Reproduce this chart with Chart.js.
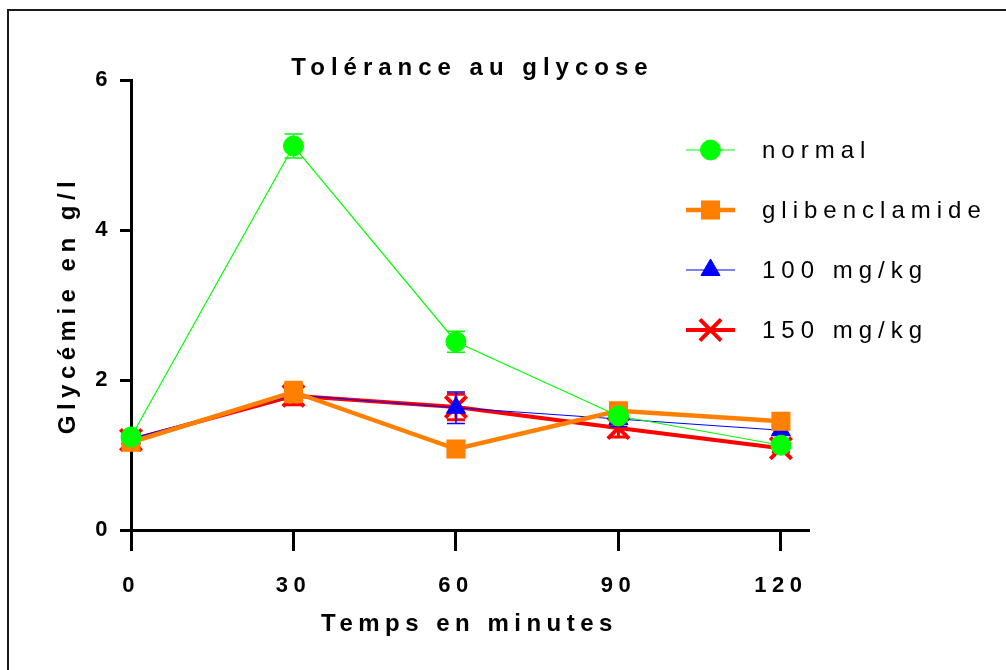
<!DOCTYPE html>
<html lang="fr">
<head>
<meta charset="utf-8">
<title>Tolérance au glycose</title>
<script src="https://cdn.jsdelivr.net/npm/chart.js@4.4.1/dist/chart.umd.min.js"></script>
<style>
  html, body { margin: 0; padding: 0; background: #fff; }
  canvas { display: block; }
</style>
</head>
<body>
<canvas id="glucoseChart" width="1006" height="670"></canvas>
<script>
// --- Glycémie (g/l) en fonction du temps (min), moyenne ± erreur ---
const minutes = [0, 30, 60, 90, 120];
const xTicks = [0, 30, 60, 90, 120];
const yTicks = [0, 2, 4, 6];
const seriesNames = ['normal', 'glibenclamide', '100 mg/kg', '150 mg/kg'];

const normal = [1.24, 5.12, 2.51, 1.52, 1.13];
const normalErr = [0.05, 0.16, 0.14, 0.06, 0.05];
const gliben = [1.17, 1.84, 1.08, 1.59, 1.45];
const glibenErr = [0.05, 0.13, 0.05, 0.05, 0.05];
const dose100 = [1.22, 1.80, 1.63, 1.48, 1.33];
const dose100Err = [0.05, 0.06, 0.21, 0.10, 0.06];
const dose150 = [1.20, 1.79, 1.64, 1.36, 1.09];
const dose150Err = [0.06, 0.12, 0.17, 0.12, 0.05];

const titleText = 'Tolérance au glycose';
const xTitle = 'Temps en minutes';
const yTitle = 'Glycémie en g/l';

const FONT = '"Liberation Sans", Arial, sans-serif';
const SPACING = '5.5px';

const toPoints = values => minutes.map((m, i) => ({ x: m, y: values[i] }));

// --- Plugins ---
// letter spacing for all text Chart.js draws (ticks, axis titles)
const letterSpacingPlugin = {
    id: 'letterSpacing',
    beforeUpdate(chart) { chart.ctx.letterSpacing = SPACING; },
    beforeDraw(chart) { chart.ctx.letterSpacing = SPACING; }
};

// vertical error bars with caps, drawn under each series' own marks
const errorBarsPlugin = {
    id: 'errorBars',
    beforeDatasetDraw(chart, args) {
        const ds = chart.data.datasets[args.index];
        if (!ds.errors) return;
        const yScale = chart.scales.y;
        const ctx = chart.ctx;
        const cap = 9;
        ctx.save();
        ctx.strokeStyle = ds.borderColor;
        ctx.lineWidth = ds.errorWidth;
        args.meta.data.forEach((pt, i) => {
            const v = ds.data[i].y;
            const e = ds.errors[i];
            const top = yScale.getPixelForValue(v + e);
            const bot = yScale.getPixelForValue(v - e);
            ctx.beginPath();
            ctx.moveTo(pt.x, top); ctx.lineTo(pt.x, bot);
            ctx.moveTo(pt.x - cap, top); ctx.lineTo(pt.x + cap, top);
            ctx.moveTo(pt.x - cap, bot); ctx.lineTo(pt.x + cap, bot);
            ctx.stroke();
        });
        ctx.restore();
    }
};

// frame, title and legend (line sample + marker + label)
const decorPlugin = {
    id: 'decor',
    afterDraw(chart) {
        const ctx = chart.ctx;
        const area = chart.chartArea;
        ctx.save();

        ctx.fillStyle = '#1a1a1a';
        ctx.fillRect(7, 9, 2, chart.height - 9);
        ctx.fillRect(7, 9, chart.width - 7, 2);

        ctx.fillStyle = '#000';
        ctx.letterSpacing = '6px';
        ctx.font = `bold 24px ${FONT}`;
        ctx.textAlign = 'center';
        ctx.textBaseline = 'middle';
        ctx.fillText(titleText, (area.left + area.right) / 2 + 3, 68);

        ctx.letterSpacing = '6px';
        ctx.font = `24px ${FONT}`;
        ctx.textAlign = 'left';
        chart.data.datasets.forEach((ds, i) => {
            const y = 150 + i * 60;
            ctx.strokeStyle = ds.borderColor;
            ctx.fillStyle = ds.backgroundColor;
            ctx.lineWidth = ds.borderWidth;
            ctx.beginPath();
            ctx.moveTo(686, y);
            ctx.lineTo(735, y);
            ctx.stroke();
            ctx.lineWidth = ds.pointBorderWidth;
            Chart.helpers.drawPoint(ctx, {
                pointStyle: ds.pointStyle,
                radius: ds.pointRadius,
                borderWidth: ds.pointBorderWidth,
                rotation: 0
            }, 710.5, y);
            ctx.fillStyle = '#000';
            ctx.fillText(ds.label, 762, y + 1);
        });
        ctx.restore();
    }
};

const ctx = document.getElementById('glucoseChart').getContext('2d');

new Chart(ctx, {
    type: 'line',
    data: {
        datasets: [
            {
                label: seriesNames[0],
                data: toPoints(normal),
                errors: normalErr,
                errorWidth: 1.5,
                borderColor: '#00ff00',
                backgroundColor: '#00ff00',
                borderWidth: 1.2,
                pointStyle: 'circle',
                pointRadius: 10,
                pointBorderWidth: 1
            },
            {
                label: seriesNames[1],
                data: toPoints(gliben),
                errors: glibenErr,
                errorWidth: 3,
                borderColor: '#ff8000',
                backgroundColor: '#ff8000',
                borderWidth: 4.5,
                pointStyle: 'rect',
                pointRadius: 13.5,
                pointBorderWidth: 0
            },
            {
                label: seriesNames[2],
                data: toPoints(dose100),
                errors: dose100Err,
                errorWidth: 1.5,
                borderColor: '#0000ff',
                backgroundColor: '#0000ff',
                borderWidth: 1.2,
                pointStyle: 'triangle',
                pointRadius: 11,
                pointBorderWidth: 1
            },
            {
                label: seriesNames[3],
                data: toPoints(dose150),
                errors: dose150Err,
                errorWidth: 3,
                borderColor: '#ff0000',
                backgroundColor: '#ff0000',
                borderWidth: 4,
                pointStyle: 'crossRot',
                pointRadius: 15,
                pointBorderWidth: 4
            }
        ]
    },
    options: {
        responsive: false,
        animation: false,
        events: [],
        layout: { padding: { left: 50, right: 198, top: 80, bottom: 20 } },
        datasets: { line: { tension: 0, clip: false, fill: false } },
        plugins: {
            legend: { display: false },
            title: { display: false },
            tooltip: { enabled: false }
        },
        scales: {
            x: {
                type: 'linear',
                min: 0,
                max: 125,
                afterBuildTicks: scale => { scale.ticks = xTicks.map(v => ({ value: v })); },
                afterFit: scale => { scale.height = 120; },
                border: { display: true, color: '#000', width: 3 },
                grid: { drawOnChartArea: false, drawTicks: true, tickLength: 21, color: '#000', lineWidth: 3 },
                ticks: { color: '#000', padding: 22, font: { family: FONT, size: 22, weight: 'bold' } },
                title: {
                    display: true,
                    text: xTitle,
                    color: '#000',
                    padding: { top: 0, bottom: 11 },
                    font: { family: FONT, size: 24, weight: 'bold' }
                }
            },
            y: {
                type: 'linear',
                min: 0,
                max: 6,
                afterBuildTicks: scale => { scale.ticks = yTicks.map(v => ({ value: v })); },
                afterFit: scale => { scale.width = 81; },
                border: { display: true, color: '#000', width: 3 },
                grid: { drawOnChartArea: false, drawTicks: true, tickLength: 11, color: '#000', lineWidth: 3 },
                ticks: { color: '#000', padding: 7, font: { family: FONT, size: 22, weight: 'bold' } },
                title: {
                    display: true,
                    text: yTitle,
                    color: '#000',
                    padding: { top: 4, bottom: 0 },
                    font: { family: FONT, size: 24, weight: 'bold' }
                }
            }
        }
    },
    plugins: [letterSpacingPlugin, errorBarsPlugin, decorPlugin]
});
</script>
</body>
</html>
